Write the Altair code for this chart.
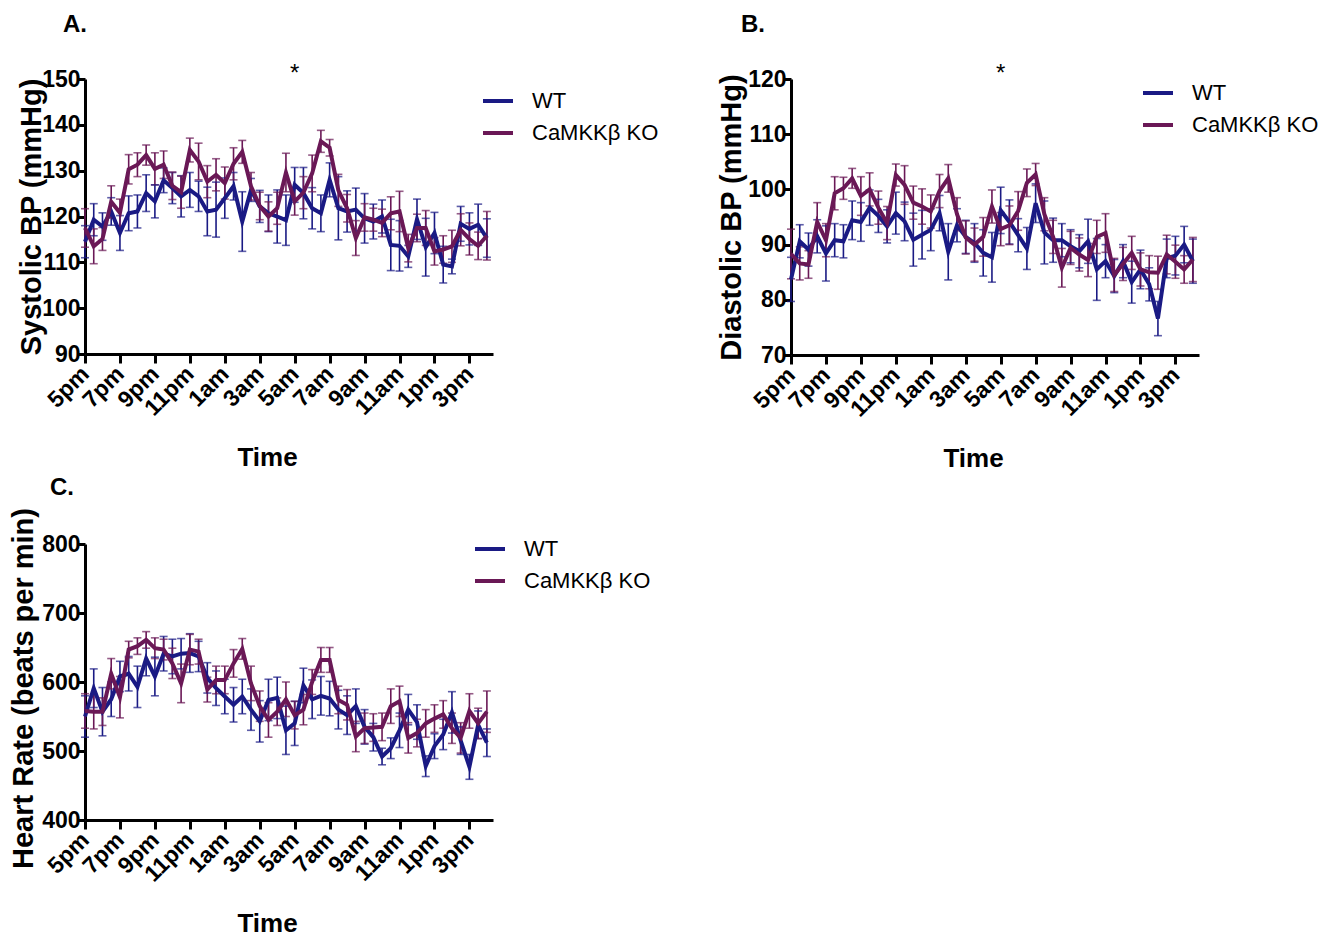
import altair as alt
import pandas as pd

# ---------------- data ----------------
time_labels = ["5pm", "7pm", "9pm", "11pm", "1am", "3am", "5am", "7am", "9am", "11am", "1pm", "3pm"]
groups = ["WT", "CaMKKβ KO"]
colors = ["#1a1a84", "#6a1856"]
star_times = [24]

sys_wt = [114.5, 119.3, 117.8, 121.1, 116.4, 120.7, 121.1, 125.1, 123.3, 127.9, 126.2, 124.4, 125.8, 124.4,
          121.1, 121.5, 124.0, 126.6, 118.9, 125.8, 122.2, 120.7, 120.0, 119.2, 126.9, 125.1, 121.8, 120.7,
          128.0, 121.8, 121.1, 121.5, 119.6, 118.9, 120.0, 113.8, 113.6, 111.3, 119.4, 113.3, 116.4, 109.5,
          109.1, 118.4, 117.3, 118.2, 115.3]
sys_wt_sem = [3.5, 3.5, 3.0, 3.0, 3.8, 3.8, 3.6, 4.0, 3.6, 2.7, 3.4, 4.5, 3.8, 3.3, 5.3, 6.0, 4.4, 3.0, 6.5,
              2.5, 3.5, 4.0, 5.8, 5.5, 3.8, 5.6, 4.5, 4.0, 3.7, 6.9, 4.5, 4.7, 5.4, 3.8, 3.6, 5.6, 5.5, 2.4,
              4.4, 6.3, 4.5, 4.0, 1.6, 3.8, 3.5, 4.5, 4.2]
sys_ko = [117.5, 113.5, 115.1, 123.2, 120.8, 130.3, 131.3, 133.4, 130.4, 131.3, 126.7, 125.3, 134.5, 132.0,
          127.6, 129.1, 127.3, 131.5, 134.1, 126.6, 122.3, 120.0, 121.8, 129.6, 123.3, 125.2, 129.4, 136.4,
          135.0, 125.7, 121.8, 115.3, 119.8, 119.3, 118.6, 120.7, 121.1, 113.1, 117.5, 117.5, 112.4, 112.8,
          113.5, 117.1, 115.1, 113.6, 115.8]
sys_ko_sem = [4.2, 3.8, 2.5, 3.5, 3.0, 3.2, 2.6, 2.2, 3.5, 3.0, 3.0, 3.5, 2.6, 4.0, 3.5, 3.5, 3.5, 3.5, 2.5,
              3.0, 3.0, 3.2, 3.5, 4.2, 3.0, 3.5, 4.0, 2.4, 1.8, 3.5, 3.0, 3.8, 3.0, 2.5, 3.0, 3.6, 4.4, 3.0,
              3.0, 3.8, 3.0, 3.0, 3.5, 3.5, 3.5, 3.0, 5.3]

dia_wt = [83.7, 90.6, 89.1, 91.5, 88.4, 90.8, 90.6, 94.4, 94.1, 96.7, 95.2, 93.3, 95.7, 94.2, 90.9, 91.8,
          92.7, 95.7, 88.7, 93.5, 91.4, 90.3, 88.5, 87.7, 96.2, 94.1, 91.7, 89.3, 97.5, 92.2, 90.8, 90.8,
          89.7, 88.8, 90.6, 85.5, 87.0, 84.3, 87.0, 83.2, 85.5, 82.8, 76.6, 87.5, 88.0, 90.0, 87.0]
dia_wt_sem = [4.0, 3.0, 3.0, 3.0, 5.0, 3.0, 3.0, 3.5, 3.5, 3.2, 3.0, 3.0, 3.8, 3.5, 4.8, 4.4, 3.8, 3.2, 5.1,
              3.0, 3.0, 3.5, 4.2, 4.5, 4.2, 4.0, 3.0, 3.8, 3.5, 5.7, 4.0, 3.0, 3.0, 3.0, 4.0, 5.6, 3.0, 3.0,
              3.0, 3.8, 3.5, 3.0, 3.1, 3.5, 3.5, 3.3, 4.0]
dia_ko = [88.3, 86.6, 86.4, 94.1, 90.8, 99.3, 100.2, 102.0, 98.8, 100.0, 96.7, 93.9, 102.6, 100.8, 97.6,
          96.9, 96.0, 99.7, 102.0, 95.5, 91.3, 90.0, 91.4, 96.9, 92.8, 93.5, 96.1, 101.2, 102.7, 95.5, 91.4,
          85.8, 89.4, 88.2, 87.2, 91.4, 92.1, 84.5, 86.5, 88.5, 85.5, 85.0, 84.9, 88.2, 86.9, 85.5, 87.3]
dia_ko_sem = [4.5, 3.0, 2.5, 3.5, 3.0, 3.0, 2.0, 1.8, 3.5, 3.0, 3.0, 3.0, 2.0, 3.5, 3.0, 3.2, 3.0, 3.0, 2.5,
              3.0, 3.0, 3.0, 3.5, 3.0, 3.0, 3.5, 3.5, 2.5, 2.0, 3.0, 3.0, 3.5, 3.0, 3.0, 3.0, 3.0, 3.5, 3.0,
              3.0, 3.0, 3.0, 3.0, 3.0, 3.5, 3.0, 2.5, 4.0]

hr_wt = [550, 591, 557, 575, 608, 612, 593, 634, 608, 641, 637, 641, 642, 637, 606, 591, 579, 567, 579, 560,
         543, 574, 577, 530, 540, 595, 575, 580, 576, 560, 552, 565, 535, 520, 492, 504, 530, 560, 542, 478,
         507, 524, 556, 515, 477, 538, 512]
hr_wt_sem = [30, 28, 35, 25, 22, 25, 30, 25, 28, 25, 25, 22, 28, 22, 22, 25, 25, 25, 25, 30, 30, 30, 30, 35,
             32, 25, 28, 28, 25, 28, 28, 25, 25, 20, 12, 15, 25, 22, 25, 15, 18, 22, 30, 20, 18, 20, 20]
hr_ko = [558, 557, 557, 612, 578, 647, 652, 661, 649, 647, 627, 598, 647, 644, 589, 603, 603, 627, 648, 598,
         565, 545, 557, 575, 552, 560, 600, 632, 632, 574, 567, 521, 533, 534, 535, 565, 572, 519, 526, 540,
         547, 553, 533, 519, 558, 540, 557]
hr_ko_sem = [25, 25, 20, 22, 30, 12, 12, 12, 15, 15, 22, 28, 22, 18, 18, 20, 20, 20, 15, 25, 22, 25, 20, 25,
             20, 22, 18, 18, 18, 20, 22, 22, 22, 20, 20, 25, 22, 22, 20, 20, 20, 20, 22, 22, 25, 22, 30]

FONT = "Liberation Sans"


def make_df(wt, wt_sem, ko, ko_sem):
    rows = []
    for g, m, s in ((groups[0], wt, wt_sem), (groups[1], ko, ko_sem)):
        for i, (v, e) in enumerate(zip(m, s)):
            rows.append({"t": i, "group": g, "mean": v, "lo": v - e, "hi": v + e})
    return pd.DataFrame(rows)


label_js = "[" + ",".join("'%s'" % l for l in time_labels) + "]"


def panel(df, ydom, ystep, ytitle, letter, letter_dx, letter_off, w, h, legend_xy, ytitle_x, ytitle_dy,
          star=True):
    xscale = alt.Scale(domain=[0, 46.7], nice=False, zero=False)
    yscale = alt.Scale(domain=ydom, nice=False, zero=False)
    xaxis = alt.Axis(values=list(range(0, 45, 4)), labelExpr=label_js + "[round(datum.value/4)]",
                     title="Time", labelAngle=-45, labelAlign="right", labelBaseline="middle",
                     labelPadding=7, tickSize=9, titleX=w / 2 - 22, titleY=90, titleBaseline="top",
                     titleFontSize=26, labelFontSize=23, labelOverlap=False)
    yaxis = alt.Axis(values=list(range(ydom[0], ydom[1] + 1, ystep)), title=ytitle, format="d",
                     titleAngle=270, titleAlign="center", titleBaseline="middle", titleFontSize=29,
                     titleX=ytitle_x, titleY=h / 2 + ytitle_dy, tickSize=7, labelPadding=-2,
                     labelFontSize=23, labelOverlap=False)
    color = alt.Color("group:N", scale=alt.Scale(domain=groups, range=colors),
                      legend=alt.Legend(orient="none", legendX=legend_xy[0], legendY=legend_xy[1],
                                        title=None, symbolType="stroke", symbolStrokeWidth=4,
                                        symbolSize=900, symbolOpacity=1, labelFontSize=22, labelFont=FONT,
                                        labelFontWeight="normal", labelColor="black",
                                        labelOffset=17, rowPadding=4))
    base = alt.Chart(df)
    x = alt.X("t:Q", scale=xscale, axis=xaxis)
    rules = base.mark_rule(strokeWidth=1.6).encode(
        x=x, y=alt.Y("lo:Q", scale=yscale, axis=yaxis), y2="hi:Q", color=color)
    tick_lo = base.mark_tick(orient="horizontal", size=8, thickness=1.6).encode(
        x=x, y=alt.Y("lo:Q", scale=yscale, axis=yaxis), color=color)
    tick_hi = base.mark_tick(orient="horizontal", size=8, thickness=1.6).encode(
        x=x, y=alt.Y("hi:Q", scale=yscale, axis=yaxis), color=color)
    lines = []
    for g in groups:
        lines.append(base.transform_filter(alt.datum.group == g).mark_line(strokeWidth=4).encode(
            x=x, y=alt.Y("mean:Q", scale=yscale, axis=yaxis), color=color))
    layers = [rules, tick_lo, tick_hi] + lines
    if star:
        sdf = pd.DataFrame({"t": star_times, "s": ["*"] * len(star_times)})
        layers.append(alt.Chart(sdf).mark_text(fontSize=24, font=FONT, color="black",
                                               baseline="middle").encode(
            x=alt.X("t:Q", scale=xscale, axis=xaxis), y=alt.value(-5), text="s:N"))
    return alt.layer(*layers).properties(
        width=w, height=h,
        title=alt.TitleParams(letter, anchor="start", frame="group", dx=letter_dx, offset=letter_off,
                              fontSize=24, font=FONT, fontWeight="bold", color="black"))


pA = panel(make_df(sys_wt, sys_wt_sem, sys_ko, sys_ko_sem), [90, 150], 10, "Systolic BP (mmHg)", "A.", -22, 25,
           408, 275, (396, 5), -54, 0)
pB = panel(make_df(dia_wt, dia_wt_sem, dia_ko, dia_ko_sem), [70, 120], 10, "Diastolic BP (mmHg)", "B.", -50, 25,
           408, 276, (350, -3), -60, 0)
pC = panel(make_df(hr_wt, hr_wt_sem, hr_ko, hr_ko_sem), [400, 800], 100, "Heart Rate (beats per min)", "C.",
           -35, 8, 408, 276, (388, -12), -62, 6, star=False)

chart = alt.concat(pA, pB, pC, columns=2, spacing=alt.RowColnumber(row=189, column=298), bounds="flush").resolve_scale(
    color="independent", x="independent", y="independent"
).properties(padding={"left": 8, "top": 13, "right": 5, "bottom": 5}).configure_view(stroke=None).configure_axis(
    domainColor="black", domainWidth=3, tickColor="black", tickWidth=3, grid=False,
    labelFont=FONT, labelFontWeight="bold", labelFontSize=23, labelColor="black",
    titleFont=FONT, titleFontWeight="bold", titleFontSize=26, titleColor="black"
).configure_legend(labelLimit=300)

chart.save("out.html", embed_options={"renderer": "svg", "actions": False})
